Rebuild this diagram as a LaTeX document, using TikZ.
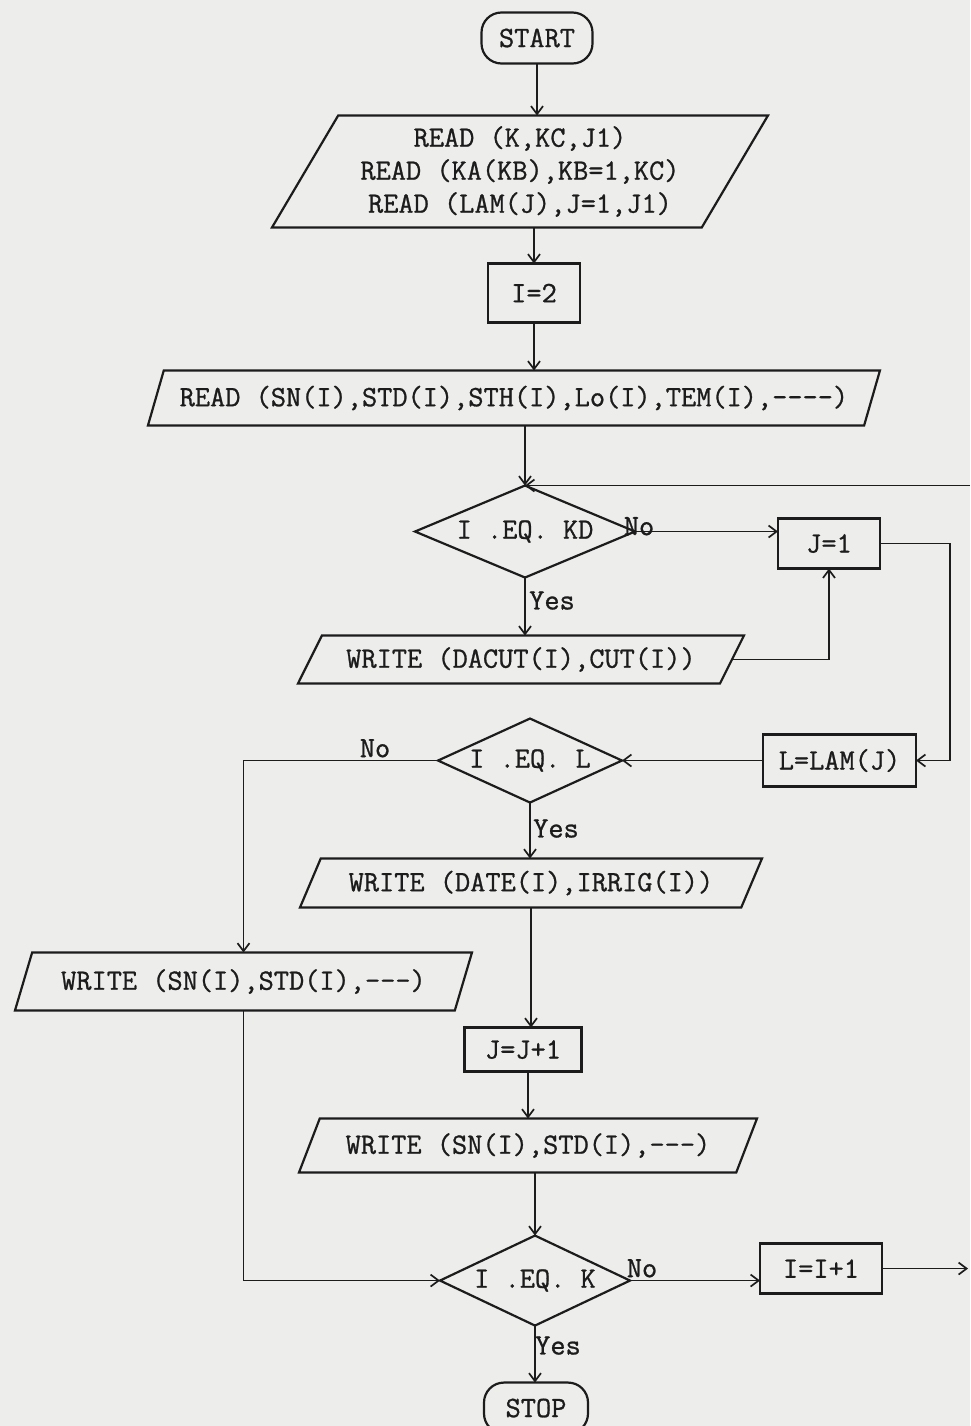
\documentclass[tikz,border=0pt]{standalone}
\usepackage{fontspec}
\usepackage{tikz}
\usetikzlibrary{positioning,arrows.meta,shapes.geometric}

\newfontfamily\typewr[FakeBold=0.9]{Latin Modern Mono}
\definecolor{paper}{RGB}{237,237,235}
\definecolor{ink}{RGB}{28,28,28}

\begin{document}
\begin{tikzpicture}[
  x=1pt, y=-1pt, color=ink,
  font=\fontsize{29.5}{33}\selectfont\typewr,
  shp/.style={draw, line width=2.2pt, inner sep=2pt, outer sep=0pt},
  term/.style={shp, rounded corners=20pt, minimum width=111pt, minimum height=51pt},
  proc/.style={shp, minimum height=50pt},
  io/.style={shp, trapezium, trapezium stretches body, inner xsep=0pt,
             trapezium left angle=#1, trapezium right angle={180-#1}},
  dec/.style={shp, diamond, aspect=2.4, inner sep=0pt},
  lbl/.style={inner sep=0pt},
  arr/.style={-{Straight Barb[length=8pt,width=12pt]}, line width=1.7pt}]

\useasboundingbox (0,0) rectangle (970,1426);
\fill[paper] (0,0) rectangle (970,1426);

\node[term] (start) at (537,38) {START};

\node[io=55, minimum width=496pt, minimum height=112pt, align=center,
      below=52pt of start, xshift=-17pt] (rd1)
  {READ (K,KC,J1)\\READ (KA(KB),KB=1,KC)\\READ (LAM(J),J=1,J1)};

\node[proc, minimum width=92pt, minimum height=59pt,
      below=36pt of rd1, xshift=14pt] (i2) {I=2};

\node[io=61, minimum width=732pt, minimum height=55pt,
      below=48pt of i2, xshift=-20pt] (rd2)
  {READ (SN(I),STD(I),STH(I),Lo(I),TEM(I),{-}{-}{-}{-})};

\node[dec, minimum width=220pt, minimum height=92pt,
      below=60pt of rd2, xshift=11pt] (d1) {I .EQ. KD};

\node[proc, minimum width=102pt, right=143pt of d1, yshift=-12pt] (j1) {J=1};

\node[io=50, minimum width=446pt, minimum height=48pt,
      below=58pt of d1, xshift=-4pt] (w1) {WRITE (DACUT(I),CUT(I))};

\node[dec, minimum width=184pt, minimum height=84pt,
      below=35pt of w1, xshift=9pt] (d2) {I .EQ. L};

\node[proc, minimum width=153pt, minimum height=52pt, right=141pt of d2] (lam) {L=LAM(J)};

\node[io=54, minimum width=462pt, minimum height=49pt,
      below=56pt of d2, xshift=1pt] (w2) {WRITE (DATE(I),IRRIG(I))};

\node[io=59, minimum width=457pt, minimum height=58pt,
      below=150pt of d2, xshift=-286.5pt] (w3) {WRITE (SN(I),STD(I),{-}{-}{-})};

\node[proc, minimum width=117pt, minimum height=44pt,
      below=120pt of w2, xshift=-8pt] (jj) {J=J+1};

\node[io=54, minimum width=458pt, minimum height=54pt,
      below=47pt of jj, xshift=5pt] (w4) {WRITE (SN(I),STD(I),{-}{-}{-})};

\node[dec, minimum width=190pt, minimum height=90pt,
      below=63pt of w4, xshift=7pt] (d3) {I .EQ. K};

\node[proc, minimum width=122pt, right=130pt of d3, yshift=12pt] (ip1) {I=I+1};

\node[term, minimum width=104pt, below=57pt of d3, xshift=1pt] (stop) {STOP};

% branch labels
\node[lbl, anchor=south] at ([xshift=4pt, yshift=-4pt]d1.east) {No};
\node[lbl, anchor=west] at ([xshift=4pt, yshift=-23pt]d1.south) {Yes};
\node[lbl, anchor=south] at ([xshift=-63pt, yshift=3pt]d2.west) {No};
\node[lbl, anchor=west] at ([xshift=3pt, yshift=-26pt]d2.south) {Yes};
\node[lbl, anchor=south] at ([xshift=12pt, yshift=3pt]d3.east) {No};
\node[lbl, anchor=west] at ([xshift=0pt, yshift=-20pt]d3.south) {Yes};

% off-page ends of the I loop
\coordinate[right=445pt of d1.north] (loopin);
\coordinate[right=86pt of ip1.east] (loopout);

\draw[arr] (start) -- (start |- rd1.north);
\draw[arr] (i2 |- rd1.south) -- (i2);
\draw[arr] (i2) -- (i2 |- rd2.north);
\draw[arr] (d1 |- rd2.south) -- (d1);
\draw[arr] (loopin) -- (d1.north);
\draw[arr] (d1.east) -- (d1.east -| j1.west);
\draw[arr] (d1) -- (d1 |- w1.north);
\draw[arr] (w1.east) -| (j1);
\draw[arr] (j1.east) -- ++(70,0) |- (lam.east);
\draw[arr] (lam) -- (d2);
\draw[arr] (d2.west) -| (w3.north);
\draw[arr] (d2) -- (d2 |- w2.north);
\draw[arr] (w2.south) -- (w2.south |- jj.north);
\draw[arr] (w4 |- jj.south) -- (w4.north);
\draw[arr] (d3 |- w4.south) -- (d3);
\draw[arr] (w3.south) |- (d3.west);
\draw[arr] (d3.east) -- (d3.east -| ip1.west);
\draw[arr] (ip1.east) -- (loopout);
\draw[arr] (d3) -- (d3 |- stop.north);
\end{tikzpicture}
\end{document}
